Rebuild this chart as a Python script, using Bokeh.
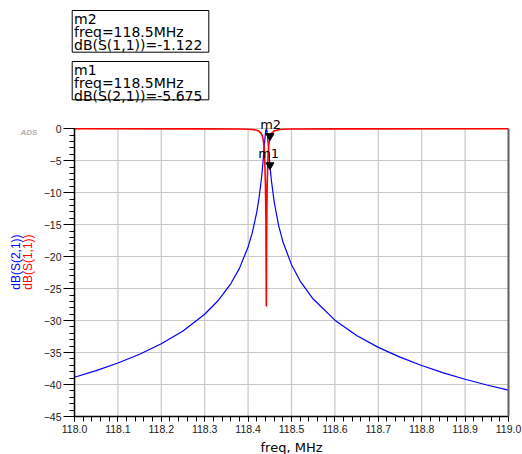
import numpy as np
from bokeh.plotting import figure
from bokeh.layouts import column, row
from bokeh.models import (SingleIntervalTicker, FixedTicker, NumeralTickFormatter,
                          Range1d, ColumnDataSource, LinearAxis)
from bokeh.core.properties import value
from bokeh.embed import file_html
from bokeh.resources import INLINE

# ---------------- data ----------------
freq_s21 = [118.0, 118.05, 118.1, 118.15, 118.2, 118.25, 118.3, 118.33, 118.36, 118.38,
            118.40, 118.41, 118.42, 118.425, 118.43, 118.432, 118.434, 118.436, 118.437,
            118.438, 118.44, 118.441, 118.442, 118.443, 118.444, 118.446, 118.447, 118.448,
            118.4503, 118.452, 118.454, 118.46, 118.47, 118.48, 118.5, 118.52, 118.55, 118.6,
            118.65, 118.7, 118.75, 118.8, 118.85, 118.9, 118.95, 119.0]
db_s21 = [-38.86, -37.82, -36.63, -35.26, -33.63, -31.62, -29.0, -26.94, -24.24, -21.83,
          -18.48, -16.16, -13.02, -10.93, -8.24, -6.94, -5.47, -3.83, -2.98,
          -2.12, -0.63, -0.17, -0.05, -0.17, -0.63, -2.12, -2.98, -3.83,
          -5.675, -6.94, -8.24, -11.39, -15.03, -17.62, -21.25, -23.81, -26.63, -29.93,
          -32.32, -34.19, -35.72, -37.03, -38.17, -39.17, -40.07, -40.88]

freq_s11 = [118.0, 118.3, 118.38, 118.40, 118.41, 118.42, 118.425, 118.43, 118.432, 118.434,
            118.436, 118.437, 118.438, 118.44, 118.441, 118.442, 118.443, 118.444, 118.446,
            118.447, 118.448, 118.4503, 118.452, 118.454, 118.46, 118.47, 118.48, 118.5,
            118.6, 119.0]
db_s11 = [0.0, -0.005, -0.03, -0.062, -0.106, -0.22, -0.365, -0.71, -0.98, -1.45,
          -2.32, -3.05, -4.13, -8.7, -14.2, -27.8, -14.2, -8.7, -4.13,
          -3.05, -2.32, -1.122, -0.98, -0.71, -0.33, -0.138, -0.076, -0.033,
          -0.004, 0.0]

x_ticks = [118.0, 118.1, 118.2, 118.3, 118.4, 118.5, 118.6, 118.7, 118.8, 118.9, 119.0]
y_ticks = [-45, -40, -35, -30, -25, -20, -15, -10, -5, 0]

marker_names = ["m2", "m1"]
marker_freq = [118.4503, 118.4503]
marker_db = [-1.122, -5.675]
marker_box_lines = [["m2", "freq=118.5MHz", "dB(S(1,1))=-1.122"],
                    ["m1", "freq=118.5MHz", "dB(S(2,1))=-5.675"]]

# ---------------- layout ----------------
PAGE_W, PAGE_H = 522, 454
TOP_H = 110          # strip holding the marker readouts
LEFT_W = 40          # strip holding the rotated y labels
BOT_H = 14           # strip holding the x-axis title
MAIN_H = PAGE_H - TOP_H - BOT_H
FRAME_L, FRAME_R, FRAME_B = 72, 508, 416   # page pixels of the main plot frame
ZERO_PY = 128.3                             # page y of 0 dB
X0, X1, Y0 = 118.0, 119.0, -45.0
Y1 = -Y0 * (ZERO_PY - TOP_H) / (FRAME_B - ZERO_PY)   # range top so that 0 dB sits at ZERO_PY


def px_x(px):
    return X0 + (px - FRAME_L) / (FRAME_R - FRAME_L) * (X1 - X0)


def px_y(py):
    return Y1 - (py - TOP_H) / (FRAME_B - TOP_H) * (Y1 - Y0)


def strip(w, h, yr):
    f = figure(width=w, height=h, output_backend="svg", toolbar_location=None,
               x_range=Range1d(0, w), y_range=yr,
               min_border=0, x_axis_location=None, y_axis_location=None)
    f.grid.visible = False
    f.outline_line_color = None
    f.background_fill_color = "white"
    f.border_fill_color = "white"
    return f


# ---------- top strip: marker readout boxes ----------
top = strip(PAGE_W, TOP_H, Range1d(TOP_H, 0))
box_tops = [10, 61]
box_bottoms = [51.7, 99.3]
top.quad(left=[71.7, 71.7], right=[208.3, 208.3], top=box_tops, bottom=box_bottoms,
         fill_color="white", line_color="black", line_width=1)
for lines, bt in zip(marker_box_lines, box_tops):
    top.text(x=[73.5] * 3, y=[bt + 8, bt + 21, bt + 34], text=lines,
             text_font=value("DejaVu Sans"), text_font_size="14px",
             text_align="left", text_baseline="middle", text_color="black")

# ---------- left strip: rotated y labels + ADS ----------
left = strip(LEFT_W, MAIN_H, Range1d(0, MAIN_H))
base = TOP_H + MAIN_H   # page y of the strip bottom
left.text(x=[15], y=[base - 273.5], text=["dB(S(2,1))"], angle=np.pi / 2,
          text_font=value("Liberation Sans"), text_font_size="12px",
          text_align="center", text_baseline="middle", text_color="#0000ff")
left.text(x=[27], y=[base - 273.5], text=["dB(S(1,1))"], angle=np.pi / 2,
          text_font=value("Liberation Sans"), text_font_size="12px",
          text_align="center", text_baseline="middle", text_color="#ff0000")
left.text(x=[28.5], y=[base - 134], text=["ADS"],
          text_font=value("Liberation Sans"), text_font_size="8px",
          text_font_style="bold italic",
          text_align="center", text_baseline="middle", text_color="#b0b0b0")

# ---------- bottom strip: x title ----------
bot = strip(PAGE_W, BOT_H, Range1d(0, BOT_H))
bot.text(x=[291], y=[PAGE_H - 447], text=["freq, MHz"],
         text_font=value("DejaVu Sans"), text_font_size="13px",
         text_align="center", text_baseline="middle", text_color="black")

# ---------- main plot ----------
p = figure(width=PAGE_W - LEFT_W, height=MAIN_H, output_backend="svg", toolbar_location=None,
           x_range=Range1d(X0, X1), y_range=Range1d(Y0, Y1),
           min_border_left=FRAME_L - LEFT_W, min_border_right=PAGE_W - FRAME_R,
           min_border_top=0, min_border_bottom=TOP_H + MAIN_H - FRAME_B)
p.background_fill_color = "white"
p.border_fill_color = "white"
p.outline_line_color = None

p.xaxis.ticker = SingleIntervalTicker(interval=0.1, num_minor_ticks=5)
p.xaxis.formatter = NumeralTickFormatter(format="0.0")
p.yaxis.ticker = FixedTicker(ticks=y_ticks, minor_ticks=list(range(-45, 1)))
p.yaxis.bounds = (Y0, 0)
for ax in (p.xaxis[0], p.yaxis[0]):
    ax.axis_line_color = "black"
    ax.axis_line_width = 1.5
    ax.major_tick_line_color = "black"
    ax.minor_tick_line_color = "black"
    ax.major_tick_in = 0
    ax.minor_tick_in = 0
    ax.major_label_text_font = "Liberation Sans"
    ax.major_label_text_font_size = "10.5px"
    ax.major_label_text_color = "#202020"
p.xaxis.major_tick_out = 5
p.xaxis.minor_tick_out = 5
p.xaxis.major_label_standoff = 3
p.yaxis.major_tick_out = 11
p.yaxis.minor_tick_out = 5
p.yaxis.major_label_standoff = 2

# right border
rax = LinearAxis(ticker=FixedTicker(ticks=[]), bounds=(Y0, 0))
rax.axis_line_color = "#606060"
rax.axis_line_width = 2
rax.major_tick_out = 0
rax.minor_tick_out = 0
rax.major_label_text_font_size = "0px"
p.add_layout(rax, "right")

# grid
p.xgrid.grid_line_color = None
p.ygrid.grid_line_color = "#c8c8c8"
p.ygrid.grid_line_width = 1.2
p.segment(x0=x_ticks, x1=x_ticks, y0=[Y0] * len(x_ticks), y1=[0] * len(x_ticks),
          line_color="#c8c8c8", line_width=1.2)

# curves
p.line(freq_s21, db_s21, line_color="#0000ff", line_width=1.2)
p.line(freq_s11, db_s11, line_color="#ff0000", line_width=1.6)

# markers
msrc = ColumnDataSource(dict(x=marker_freq, y=marker_db, name=marker_names))
p.scatter("x", "y", source=msrc, marker="inverted_triangle", size=8,
          fill_color="black", line_color="black")
p.text(x=[px_x(269), px_x(267)], y=[px_y(123.5), px_y(152.5)], text=marker_names,
       text_font=value("DejaVu Sans"), text_font_size="13px",
       text_align="center", text_baseline="middle", text_color="black")

layout = column(top, row(left, p), bot)
open("out.html", "w").write(file_html(layout, INLINE))
